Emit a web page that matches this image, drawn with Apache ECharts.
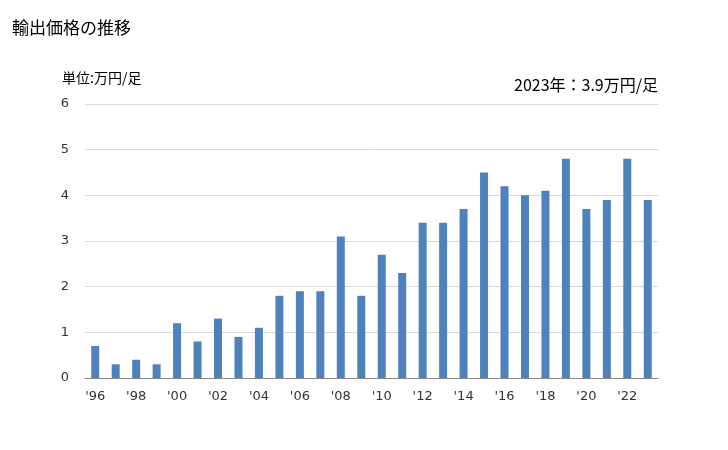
<!DOCTYPE html>
<html><head><meta charset="utf-8">
<script src="https://cdn.jsdelivr.net/npm/echarts@6/dist/echarts.min.js"></script>
<style>html,body{margin:0;padding:0;background:#fff}#c{width:728px;height:450px}</style>
</head><body><div id="c"></div>
<script>
const years = ["'96","'97","'98","'99","'00","'01","'02","'03","'04","'05","'06","'07","'08","'09","'10","'11","'12","'13","'14","'15","'16","'17","'18","'19","'20","'21","'22","'23"];
const values = [0.7,0.3,0.4,0.3,1.2,0.8,1.3,0.9,1.1,1.8,1.9,1.9,3.1,1.8,2.7,2.3,3.4,3.4,3.7,4.5,4.2,4.0,4.1,4.8,3.7,3.9,4.8,3.9];
const yTicks = [0,1,2,3,4,5,6];
const titleText = '輸出価格の推移';
const unitText = '単位:万円/足';
const noteText = '2023年：3.9万円/足';
const font = '"Noto Sans CJK JP","Noto Sans",sans-serif';
const chart = echarts.init(document.getElementById('c'));
chart.setOption({
  animation:false,
  title:[
    {text:titleText,left:12,top:19,padding:0,textStyle:{fontSize:17,fontWeight:'normal',color:'#000',fontFamily:font}},
    {text:unitText,left:62,top:71,padding:0,textStyle:{fontSize:14,fontWeight:'normal',color:'#000',fontFamily:font}},
    {text:noteText,right:70,top:77,padding:0,textStyle:{fontSize:16,fontWeight:'normal',color:'#000',fontFamily:font}}
  ],
  grid:{left:85,right:70,top:104,bottom:72},
  xAxis:{type:'category',data:years,
    axisLine:{lineStyle:{color:'#888'}},axisTick:{show:false},
    axisLabel:{interval:1,color:'#333',fontSize:13,fontFamily:'"DejaVu Sans",sans-serif',margin:12}},
  yAxis:{type:'value',min:yTicks[0],max:yTicks[yTicks.length-1],interval:1,
    axisLine:{show:false},axisTick:{show:false},
    splitLine:{lineStyle:{color:'#d9d9d9'}},
    axisLabel:{color:'#333',fontSize:13,fontFamily:'"DejaVu Sans",sans-serif',margin:16}},
  series:[{type:'bar',data:values,barWidth:8,itemStyle:{color:'#4f81bd'}}]
});
</script></body></html>
